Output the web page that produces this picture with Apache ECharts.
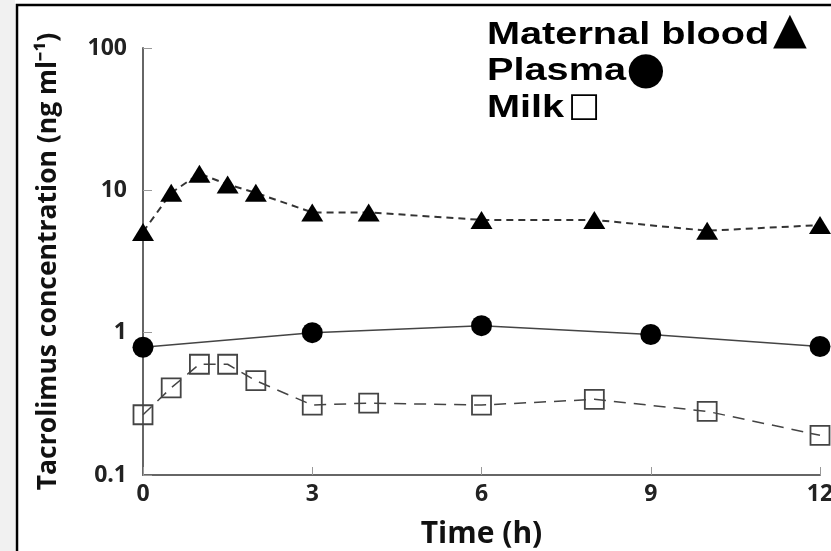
<!DOCTYPE html>
<html>
<head>
<meta charset="utf-8">
<script src="https://cdn.jsdelivr.net/npm/echarts@6/dist/echarts.min.js"></script>
<style>
html,body{margin:0;padding:0;background:#fff;}
#chart{width:831px;height:551px;}
</style>
</head>
<body>
<div id="chart"></div>
<script type="text/javascript">
// time points (h)
var bloodTimes = [0, 0.5, 1, 1.5, 2, 3, 4, 6, 8, 10, 12];
var bloodConc = [5.1, 9.6, 13.1, 11.0, 9.6, 7.0, 7.0, 6.2, 6.2, 5.2, 5.7];
var plasmaTimes = [0, 3, 6, 9, 12];
var plasmaConc = [0.79, 1.0, 1.12, 0.97, 0.8];
var milkTimes = [0, 0.5, 1, 1.5, 2, 3, 4, 6, 8, 10, 12];
var milkConc = [0.265, 0.41, 0.6, 0.6, 0.46, 0.31, 0.32, 0.31, 0.34, 0.28, 0.19];
var yTickLabels = ["0.1", "1", "10", "100"];

function pairs(xs, ys){
	var out = [];
	for(var i=0;i<xs.length;i++){
		out.push([xs[i], ys[i]]);
	}
	return out;
}

var axisFont = "Open Sans";
var legendFont = "Liberation Sans";
var chart = echarts.init(document.getElementById("chart"));

var option = {
	backgroundColor: "#fff",
	animation: false,
	grid: {left: 143, right: 11, top: 48, bottom: 76, outerBoundsMode: "none"},
	xAxis: {
		type: "value",
		min: 0, max: 12, interval: 3,
		name: "Time (h)",
		nameLocation: "middle",
		nameGap: 44,
		nameTextStyle: {fontFamily: axisFont, fontWeight: "bold", fontSize: 30, color: "#111"},
		axisLine: {lineStyle: {color: "#666", width: 2}},
		axisTick: {inside: true, length: 8, lineStyle: {color: "#999", width: 1}},
		axisLabel: {fontFamily: axisFont, fontWeight: "bold", fontSize: 23, color: "#222", margin: 8},
		splitLine: {show: false}
	},
	yAxis: {
		type: "log",
		logBase: 10,
		min: 0.1, max: 100,
		name: "Tacrolimus concentration (ng ml\u207B\u00B9)",
		nameLocation: "middle",
		nameGap: 81,
		nameTextStyle: {fontFamily: axisFont, fontWeight: "bold", fontSize: 26.5, color: "#111"},
		axisLine: {show: true, lineStyle: {color: "#666", width: 2}},
		axisTick: {inside: true, length: 9, lineStyle: {color: "#999", width: 1}},
		axisLabel: {
			fontFamily: axisFont, fontWeight: "bold", fontSize: 23, color: "#222", margin: 16,
			formatter: function(v){
				var idx = Math.round(Math.log10(v)) + 1;
				return yTickLabels[idx];
			}
		},
		splitLine: {show: false}
	},
	series: [
		{
			name: "Maternal blood",
			type: "line",
			data: pairs(bloodTimes, bloodConc),
			clip: false,
			symbol: "triangle",
			symbolSize: [22, 18],
			itemStyle: {color: "#000"},
			lineStyle: {color: "#333", width: 2, type: [7, 5]},
			z: 3
		},
		{
			name: "Plasma",
			type: "line",
			data: pairs(plasmaTimes, plasmaConc),
			clip: false,
			symbol: "circle",
			symbolSize: 21,
			itemStyle: {color: "#000"},
			lineStyle: {color: "#444", width: 1.5, type: "solid"},
			z: 3
		},
		{
			name: "Milk",
			type: "line",
			data: pairs(milkTimes, milkConc),
			clip: false,
			symbol: "rect",
			symbolSize: 19,
			itemStyle: {color: "transparent", borderColor: "#444", borderWidth: 1.8},
			lineStyle: {color: "#444", width: 1.5, type: [12, 8]},
			z: 3
		}
	],
	graphic: [
		// gray strip at left
		{type: "rect", left: 0, top: 0, shape: {width: 15, height: 551}, style: {fill: "#f1f1f1"}, silent: true},
		// figure frame
		{type: "rect", shape: {x: 17, y: 5, width: 850, height: 600}, style: {fill: "none", stroke: "#000", lineWidth: 2.5}, silent: true},
		// legend text
		{type: "text", x: 487, y: 19, scaleX: 1.24, style: {text: "Maternal blood", font: "bold 32px " + legendFont, fill: "#000"}},
		{type: "text", x: 487, y: 55, scaleX: 1.24, style: {text: "Plasma", font: "bold 32px " + legendFont, fill: "#000"}},
		{type: "text", x: 487, y: 92, scaleX: 1.24, style: {text: "Milk", font: "bold 32px " + legendFont, fill: "#000"}},
		// legend symbols
		{type: "text", x: 790, y: 32, style: {text: "\u25B2", font: "44px DejaVu Sans", fill: "#000", align: "center", verticalAlign: "middle"}},
		{type: "text", x: 646, y: 71, style: {text: "\u25CF", font: "45px DejaVu Sans", fill: "#000", align: "center", verticalAlign: "middle"}},
		{type: "text", x: 584, y: 107, style: {text: "\u25A1", font: "34px DejaVu Sans", fill: "#000", align: "center", verticalAlign: "middle"}}
	]
};
chart.setOption(option);
</script>
</body>
</html>
